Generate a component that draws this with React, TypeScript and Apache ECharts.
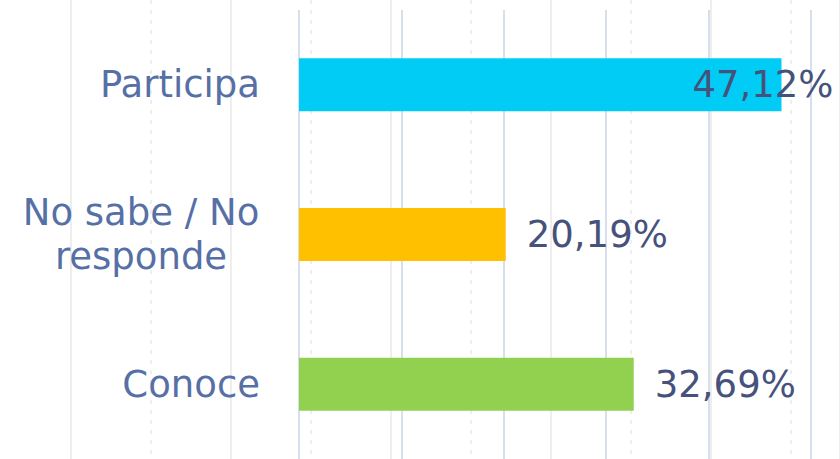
import React, { useEffect, useRef } from "react";
import * as echarts from "echarts";

const categories = ["Participa", "No sabe / No\nresponde", "Conoce"];
const values = [47.12, 20.19, 32.69];
const barColors = ["#00CCF5", "#FFC000", "#92D050"];
const xTicks = [0, 10, 20, 30, 40, 50];

const fmt = (v: number) => v.toFixed(2).replace(".", ",") + "%";

export default function App() {
  const ref = useRef<HTMLDivElement>(null);
  useEffect(() => {
    if (!ref.current) return;
    const chart = echarts.init(ref.current, null, { renderer: "svg" });
    const font = "DejaVu Sans";
    const bgAxis = (gridIndex: number, max: number, type: any) => ({
      type: "value",
      gridIndex,
      min: 0,
      max,
      interval: 2,
      axisLabel: { show: false },
      axisLine: { show: false },
      axisTick: { show: false },
      splitLine: { show: true, lineStyle: { color: "#eeeeee", width: 2, type } },
    });
    chart.setOption({
      animation: false,
      backgroundColor: "#ffffff",
      grid: [
        { left: 299, right: 29, top: 10, bottom: -1, containLabel: false },
        { left: 71, right: 0, top: 0, bottom: 0, containLabel: false },
        { left: 151, right: 0, top: 0, bottom: 0, containLabel: false },
      ],
      xAxis: [
        {
          type: "value",
          gridIndex: 0,
          min: xTicks[0],
          max: xTicks[xTicks.length - 1],
          interval: xTicks[1] - xTicks[0],
          axisLabel: { show: false },
          axisLine: { show: false },
          axisTick: { show: false },
          splitLine: { show: true, lineStyle: { color: "#d8dfec", width: 2 } },
        },
        bgAxis(1, 769 / 80, "solid"),
        bgAxis(2, 689 / 80, [4, 6]),
      ],
      yAxis: [
        {
          type: "category",
          gridIndex: 0,
          inverse: true,
          data: categories,
          axisLine: { show: false },
          axisTick: { show: false },
          splitLine: { show: false },
          axisLabel: {
            margin: 39,
            formatter: (v: string) => {
              const lines = v.split("\n");
              const key = lines.length > 1 ? "m" : "c";
              return lines.map((s) => "{" + key + "|" + s + "}").join("\n");
            },
            rich: {
              c: {
                fontFamily: font,
                fontSize: 37,
                color: "#5670a6",
                lineHeight: 44,
              },
              m: {
                fontFamily: font,
                fontSize: 37,
                color: "#5670a6",
                lineHeight: 44,
                width: 238,
                align: "center",
              },
            },
          },
        },
        { type: "category", gridIndex: 1, data: ["a"], show: false },
        { type: "category", gridIndex: 2, data: ["a"], show: false },
      ],
      series: [
        {
          type: "bar",
          xAxisIndex: 0,
          yAxisIndex: 0,
          barWidth: 53,
          data: values.map((v, i) => {
            const item: any = { value: v, itemStyle: { color: barColors[i] } };
            if (i === 0) {
              item.label = { position: "insideRight", distance: 0, offset: [52, 0] };
            }
            return item;
          }),
          label: {
            show: true,
            position: "right",
            distance: 21,
            fontFamily: font,
            fontSize: 37,
            color: "#46527c",
            formatter: (p: any) => fmt(p.value),
          },
        },
      ],
    });
    return () => chart.dispose();
  }, []);
  return <div ref={ref} style={{ width: 840, height: 459, position: "absolute", left: 0, top: 0 }} />;
}
